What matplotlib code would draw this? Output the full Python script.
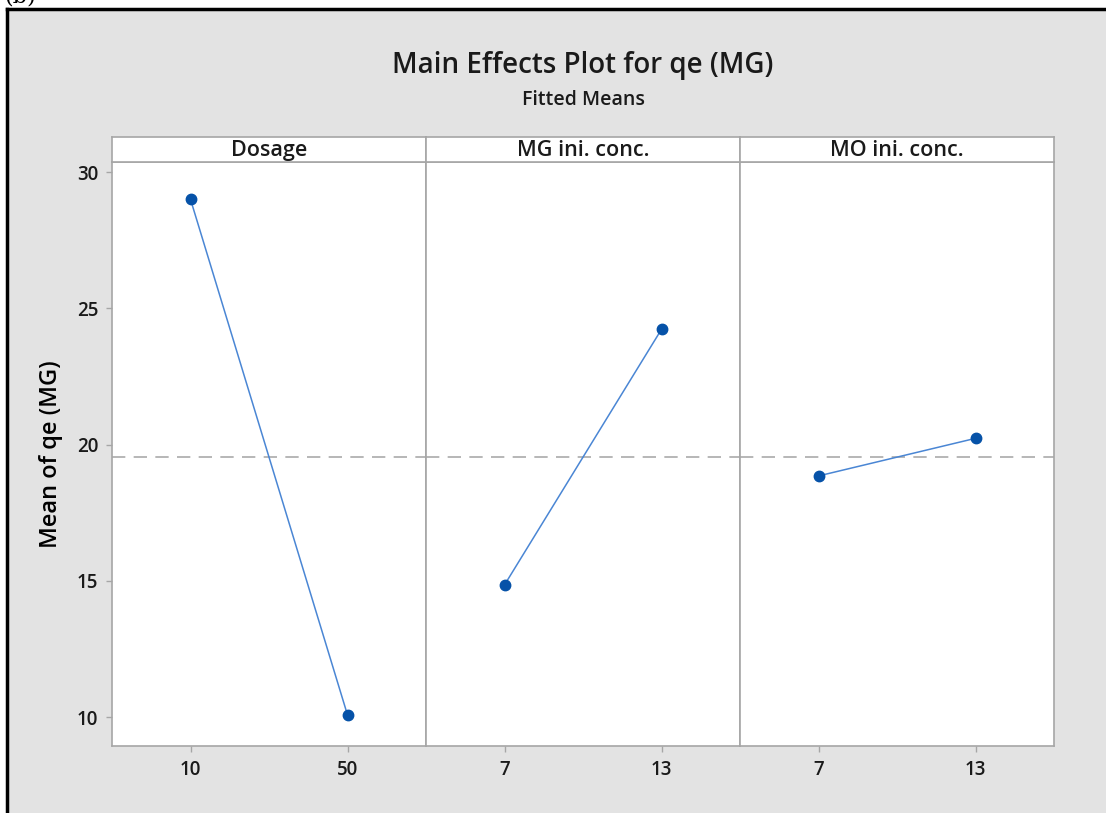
import matplotlib
matplotlib.use("Agg")
import matplotlib.pyplot as plt
from matplotlib.patches import Rectangle
import numpy as np

plt.rcParams['font.family'] = ['Open Sans', 'DejaVu Sans']

# fitted means for each factor level
factors = ['Dosage', 'MG ini. conc.', 'MO ini. conc.']
levels = [['10', '50'], ['7', '13'], ['7', '13']]
means = [[29.0, 10.08], [14.85, 24.23], [18.85, 20.23]]
grand_mean = np.mean(means)

yticks = [10, 15, 20, 25, 30]

W, H = 1106, 813
fig = plt.figure(figsize=(W / 100, H / 100), dpi=100)
fig.patch.set_facecolor('white')

# grey page with a black frame on top and left
bg = Rectangle((8 / W, 0), 1, (H - 9) / H, transform=fig.transFigure,
               facecolor='#e3e3e3', edgecolor='none', zorder=-10)
fig.add_artist(bg)
fig.add_artist(plt.Line2D([7 / W, 7 / W], [0, (H - 9) / H], color='black', lw=2.5,
                          transform=fig.transFigure, zorder=-9))
fig.add_artist(plt.Line2D([7 / W, 1], [(H - 9) / H, (H - 9) / H], color='black', lw=2.5,
                          transform=fig.transFigure, zorder=-9))
fig.text(4 / W, (H - 7) / H, '(b)', family='DejaVu Serif', fontsize=16, va='bottom')

fig.text(583 / W, (H - 66) / H, 'Main Effects Plot for qe (MG)', ha='center', va='center',
         fontsize=20, weight='semibold', color='#1a1a1a')
fig.text(583 / W, (H - 100) / H, 'Fitted Means', ha='center', va='center',
         fontsize=14, weight='semibold', color='#1a1a1a')

left, right = 112, 1054
top, strip_top, bottom = 162, 137, 746
pw = (right - left) / 3
spine_c = '#a6a6a6'
line_c = '#4a86d4'
dot_c = '#0652a8'

for i in range(3):
    x0 = left + i * pw
    ax = fig.add_axes([x0 / W, (H - bottom) / H, pw / W, (bottom - top) / H])
    xs = np.arange(len(levels[i]))
    ax.plot(xs, means[i], color=line_c, lw=1.1, zorder=2)
    ax.plot(xs, means[i], 'o', color=dot_c, ms=7.5, zorder=3)
    ax.axhline(grand_mean, color='#aaaaaa', lw=1.2, dashes=(8, 5), zorder=1)
    ax.set_xlim(-0.5, 1.5)
    ax.set_ylim(8.94, 30.37)
    ax.set_xticks(xs)
    ax.set_xticklabels(levels[i], fontsize=13.5, weight='semibold')
    ax.set_yticks(yticks)
    if i == 0:
        ax.set_yticklabels([str(t) for t in yticks], fontsize=13.5, weight='semibold')
        ax.set_ylabel('Mean of qe (MG)', fontsize=17, weight='semibold', labelpad=10)
    else:
        ax.tick_params(axis='y', left=False, labelleft=False)
    ax.tick_params(axis='both', direction='out', length=4, width=1, color=spine_c,
                   labelcolor='#1a1a1a', pad=6)
    for s in ax.spines.values():
        s.set_color(spine_c)
        s.set_linewidth(1.2)

    # factor header strip
    hx = fig.add_axes([x0 / W, (H - top) / H, pw / W, (top - strip_top) / H])
    hx.set_xticks([])
    hx.set_yticks([])
    for s in hx.spines.values():
        s.set_color(spine_c)
        s.set_linewidth(1.2)
    hx.text(0.5, 0.45, factors[i], ha='center', va='center', fontsize=15.5,
            weight='semibold', color='#1a1a1a', transform=hx.transAxes)

fig.savefig('out.png', dpi=100)
